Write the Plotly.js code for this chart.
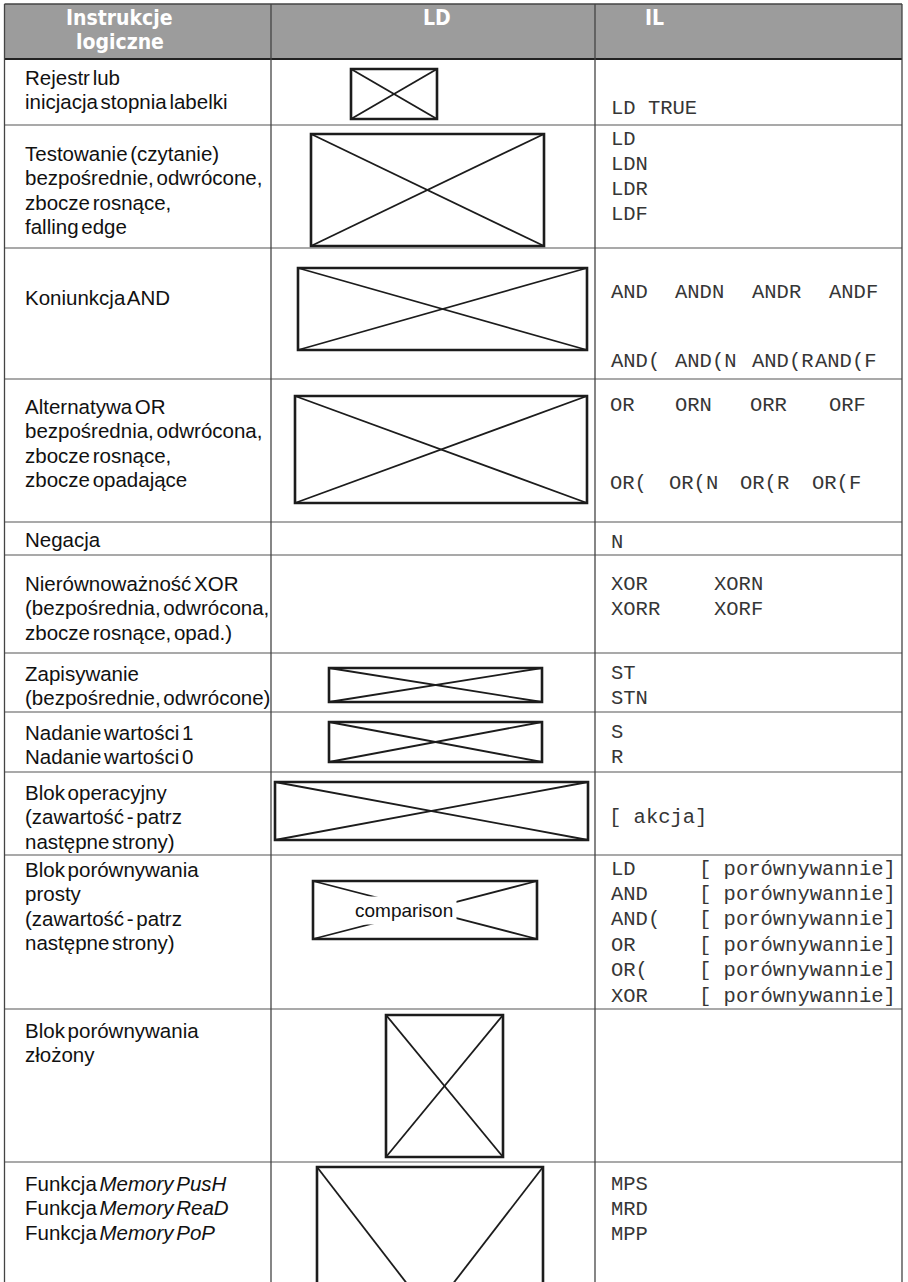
<!DOCTYPE html>
<html>
<head>
<meta charset="utf-8">
<script src="https://cdn.plot.ly/plotly-3.0.1.min.js"></script>
<style>
html,body{margin:0;padding:0;background:#fff}
#chart{width:908px;height:1282px}
text.annotation-text[style*="Liberation Sans"]{word-spacing:-3px}
</style>
</head>
<body>
<div id="chart"></div>
<script>
// ---------- table content (data) ----------
const headerLabels = ['Instrukcje', 'logiczne', 'LD', 'IL'];

const instrLabels = [
  ['Rejestr lub', 'inicjacja stopnia labelki'],
  ['Testowanie (czytanie)', 'bezpośrednie, odwrócone,', 'zbocze rosnące,', 'falling edge'],
  ['Koniunkcja AND'],
  ['Alternatywa OR', 'bezpośrednia, odwrócona,', 'zbocze rosnące,', 'zbocze opadające'],
  ['Negacja'],
  ['Nierównoważność XOR', '(bezpośrednia, odwrócona,', 'zbocze rosnące, opad.)'],
  ['Zapisywanie', '(bezpośrednie, odwrócone)'],
  ['Nadanie wartości 1', 'Nadanie wartości 0'],
  ['Blok operacyjny', '(zawartość - patrz', 'następne strony)'],
  ['Blok porównywania', 'prosty', '(zawartość - patrz', 'następne strony)'],
  ['Blok porównywania', 'złożony'],
  ['Funkcja <i>Memory PusH</i>', 'Funkcja <i>Memory ReaD</i>', 'Funkcja <i>Memory PoP</i>']
];

const cmpArg = '[ porównywannie]';
const ilCode = [
  [['LD TRUE']],
  [['LD'], ['LDN'], ['LDR'], ['LDF']],
  [['AND', 'ANDN', 'ANDR', 'ANDF'], ['AND(', 'AND(N', 'AND(R', 'AND(F']],
  [['OR', 'ORN', 'ORR', 'ORF'], ['OR(', 'OR(N', 'OR(R', 'OR(F']],
  [['N']],
  [['XOR', 'XORN'], ['XORR', 'XORF']],
  [['ST'], ['STN']],
  [['S'], ['R']],
  [['[ akcja]']],
  [['LD', cmpArg], ['AND', cmpArg], ['AND(', cmpArg], ['OR', cmpArg], ['OR(', cmpArg], ['XOR', cmpArg]],
  [],
  [['MPS'], ['MRD'], ['MPP']]
];

const ldBoxLabel = 'comparison';

// ---------- layout geometry (positions, not data) ----------
const W = 908, H = 1282;
const colX = [4.5, 271, 595, 902];
const headerTop = 4;
const rowLines = [59, 125, 248, 379, 522, 555, 653, 712, 772, 855, 1009, 1162];

const labelFirstY = [77, 153, 297, 406, 539, 583, 673, 732, 792, 869, 1030, 1183];
const labelStep = 24.5;
const labelX = 23;

const ilLineY = [
  [108], [139, 164, 189, 214], [292, 361], [405, 483], [542], [584, 609],
  [673, 698], [732, 757], [817], [869, 894.4, 919.8, 945.2, 970.6, 996], [], [1184, 1209, 1234]
];
const ilTokX = [
  [[609]], [[609], [609], [609], [609]],
  [[609, 673, 750, 827], [609, 673, 750, 813]],
  [[608, 673, 748, 827], [608, 667, 738, 810]],
  [[609]], [[609, 712], [609, 712]], [[609], [609]], [[609], [609]], [[607]],
  null, null, [[609], [609], [609]]
];
const cmpOpX = 609, cmpArgRight = 898;

// LD boxes: [x0, x1, y0, y1]
const ldBoxes = [
  [351, 437, 69, 119],
  [311, 544, 134, 246],
  [298, 587, 268, 350],
  [295, 587, 396, 503],
  null, null,
  [329, 542, 668, 702],
  [329, 542, 722, 762],
  [275, 588, 782, 840],
  [313, 537, 881, 939],
  [386, 503, 1015, 1157],
  [317, 543, 1167, 1460]
];
const cmpLabelPos = [404, 910];

// ---------- build ----------
const SANS = 'Liberation Sans, Arial, Helvetica, sans-serif';
const NARROW = 'Liberation Sans Narrow, Arial Narrow, DejaVu Sans Condensed, Liberation Sans, sans-serif';
const MONO = 'Courier New, Liberation Mono, Cousine, monospace';
const gridColor = '#555555';

const shapes = [];
const annotations = [];

// header band
shapes.push({type: 'rect', xref: 'x', yref: 'y', x0: colX[0], x1: colX[3], y0: headerTop, y1: rowLines[0],
  fillcolor: '#9c9c9c', line: {width: 0}, layer: 'below'});

// horizontal lines
shapes.push({type: 'line', xref: 'x', yref: 'y', x0: colX[0], x1: colX[3], y0: headerTop, y1: headerTop,
  line: {color: '#444', width: 1.5}});
rowLines.forEach((y, i) => {
  shapes.push({type: 'line', xref: 'x', yref: 'y', x0: colX[0], x1: colX[3], y0: y, y1: y,
    line: {color: i === 0 ? '#222' : gridColor, width: i === 0 ? 2 : 1.2}});
});
// vertical lines
colX.forEach((x) => {
  shapes.push({type: 'line', xref: 'x', yref: 'y', x0: x, x1: x, y0: headerTop, y1: H + 5,
    line: {color: '#444', width: 1.3}});
});

// header text
const hdrFont = {family: NARROW, size: 21, color: '#ffffff', weight: 'bold'};
const hdrCx = [(colX[0] + colX[1]) / 2 - 18, (colX[1] + colX[2]) / 2 + 4, (colX[2] + colX[3]) / 2 - 94];
annotations.push({xref: 'x', yref: 'y', x: hdrCx[0], y: 18, text: headerLabels[0], showarrow: false, font: hdrFont, xanchor: 'center', yanchor: 'middle'});
annotations.push({xref: 'x', yref: 'y', x: hdrCx[0], y: 42, text: headerLabels[1], showarrow: false, font: hdrFont, xanchor: 'center', yanchor: 'middle'});
annotations.push({xref: 'x', yref: 'y', x: hdrCx[1], y: 18, text: headerLabels[2], showarrow: false, font: hdrFont, xanchor: 'center', yanchor: 'middle'});
annotations.push({xref: 'x', yref: 'y', x: hdrCx[2], y: 18, text: headerLabels[3], showarrow: false, font: hdrFont, xanchor: 'center', yanchor: 'middle'});

// instruction labels
const lblFont = {family: SANS, size: 20.5, color: '#111111'};
instrLabels.forEach((lines, r) => {
  lines.forEach((t, k) => {
    annotations.push({xref: 'x', yref: 'y', x: labelX, y: labelFirstY[r] + k * labelStep, text: t,
      showarrow: false, font: lblFont, xanchor: 'left', yanchor: 'middle'});
  });
});

// IL code
const ilFont = {family: MONO, size: 20.5, color: '#363636'};
ilCode.forEach((lines, r) => {
  lines.forEach((toks, k) => {
    const y = ilLineY[r][k];
    if (ilTokX[r] === null) {
      annotations.push({xref: 'x', yref: 'y', x: cmpOpX, y: y, text: toks[0], showarrow: false, font: ilFont, xanchor: 'left', yanchor: 'middle'});
      annotations.push({xref: 'x', yref: 'y', x: cmpArgRight, y: y, text: toks[1], showarrow: false, font: ilFont, xanchor: 'right', yanchor: 'middle'});
    } else {
      toks.forEach((t, j) => {
        annotations.push({xref: 'x', yref: 'y', x: ilTokX[r][k][j], y: y, text: t, showarrow: false, font: ilFont, xanchor: 'left', yanchor: 'middle'});
      });
    }
  });
});

// LD boxes with crosses
const boxLine = {color: '#1c1c1c', width: 2.6};
const diagLine = {color: '#1c1c1c', width: 1.8};
ldBoxes.forEach((b) => {
  if (!b) return;
  const [x0, x1, y0, y1] = b;
  shapes.push({type: 'line', xref: 'x', yref: 'y', x0: x0, y0: y0, x1: x1, y1: y1, line: diagLine});
  shapes.push({type: 'line', xref: 'x', yref: 'y', x0: x0, y0: y1, x1: x1, y1: y0, line: diagLine});
  shapes.push({type: 'rect', xref: 'x', yref: 'y', x0: x0, y0: y0, x1: x1, y1: y1, line: boxLine, fillcolor: 'rgba(0,0,0,0)'});
});
annotations.push({xref: 'x', yref: 'y', x: cmpLabelPos[0], y: cmpLabelPos[1], text: ldBoxLabel, showarrow: false,
  font: {family: SANS, size: 19, color: '#111'}, bgcolor: '#ffffff', borderpad: 3, xanchor: 'center', yanchor: 'middle'});

const layout = {
  width: W, height: H,
  margin: {l: 0, r: 0, t: 0, b: 0, pad: 0},
  paper_bgcolor: '#ffffff', plot_bgcolor: '#ffffff',
  showlegend: false,
  xaxis: {range: [0, W], visible: false, fixedrange: true},
  yaxis: {range: [H, 0], visible: false, fixedrange: true},
  shapes: shapes,
  annotations: annotations
};

Plotly.newPlot('chart', [{type: 'scatter', x: [], y: [], mode: 'markers', hoverinfo: 'skip'}], layout,
  {staticPlot: true, displayModeBar: false});
</script>
</body>
</html>
